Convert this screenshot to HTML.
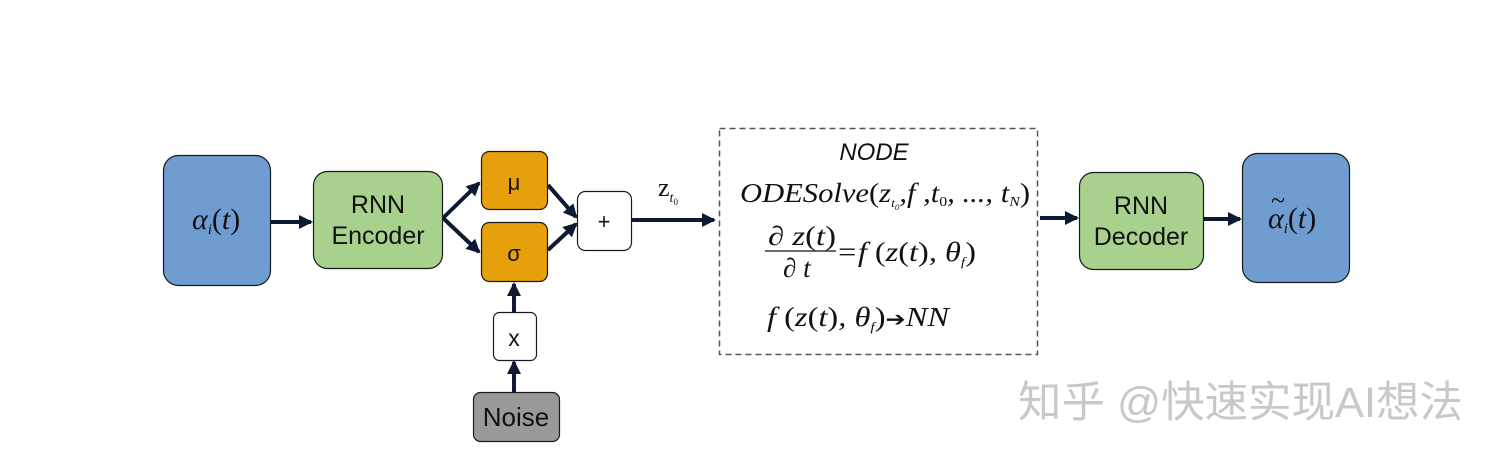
<!DOCTYPE html>
<html><head><meta charset="utf-8"><style>
html,body{margin:0;padding:0;background:#fff;width:1503px;height:462px;overflow:hidden}
svg{display:block}
.s{font-family:"Liberation Sans",sans-serif}
.m{font-family:"Liberation Serif",serif;font-style:italic}
</style></head><body>
<svg width="1503" height="462" viewBox="0 0 1503 462" xmlns="http://www.w3.org/2000/svg">
<defs>
<marker id="a" markerWidth="3.5" markerHeight="3.5" refX="3" refY="1.75" orient="auto" markerUnits="strokeWidth">
<path d="M0,0 L3.5,1.75 L0,3.5 Z" fill="#0d1a33"/></marker>
</defs>
<g stroke="#0d1a33" stroke-width="4" fill="none" marker-end="url(#a)">
<line x1="271" y1="222" x2="311" y2="222"/>
<line x1="443" y1="218" x2="479" y2="183"/>
<line x1="443" y1="218" x2="479" y2="252"/>
<line x1="548" y1="185" x2="576" y2="217"/>
<line x1="548" y1="250" x2="576" y2="224"/>
<line x1="632" y1="220" x2="714" y2="220"/>
<line x1="514" y1="312" x2="514" y2="284"/>
<line x1="514" y1="392" x2="514" y2="362"/>
<line x1="1040" y1="218" x2="1077" y2="218"/>
<line x1="1204" y1="219" x2="1240" y2="219"/>
</g>
<rect x="163.5" y="155.5" width="107" height="130" rx="15" fill="#6f9dd2" stroke="#1a1a1a" stroke-width="1.2"/>
<rect x="313.5" y="171.5" width="129" height="97" rx="14" fill="#a9d18e" stroke="#1a1a1a" stroke-width="1.2"/>
<rect x="481.5" y="151.5" width="66" height="58" rx="8" fill="#e6a00c" stroke="#1a1a1a" stroke-width="1.2"/>
<rect x="481.5" y="222.5" width="66" height="59" rx="8" fill="#e6a00c" stroke="#1a1a1a" stroke-width="1.2"/>
<rect x="577.5" y="191.5" width="54" height="59" rx="8" fill="#fff" stroke="#1a1a1a" stroke-width="1.2"/>
<rect x="493.5" y="312.5" width="43" height="48" rx="6" fill="#fff" stroke="#1a1a1a" stroke-width="1.2"/>
<rect x="473.5" y="392.5" width="86" height="49" rx="7" fill="#999" stroke="#1a1a1a" stroke-width="1.2"/>
<rect x="719.5" y="128.5" width="318" height="226" fill="#fff" stroke="#555" stroke-width="1.5" stroke-dasharray="6,4"/>
<rect x="1079.5" y="172.5" width="124" height="97" rx="14" fill="#a9d18e" stroke="#1a1a1a" stroke-width="1.2"/>
<rect x="1242.5" y="153.5" width="107" height="129" rx="15" fill="#6f9dd2" stroke="#1a1a1a" stroke-width="1.2"/>

<g class="s" fill="#111" font-size="25" text-anchor="middle">
<text x="378" y="213">RNN</text><text x="378" y="244">Encoder</text>
<text x="1141" y="214">RNN</text><text x="1141" y="245">Decoder</text>
<text x="516" y="426" font-size="26">Noise</text>
<text x="514" y="346" font-size="23">x</text>
<text x="604" y="229" font-size="22">+</text>
<text x="514" y="190" font-size="22">μ</text>
<text x="514" y="261" font-size="22">σ</text>
<text x="874" y="160" font-style="italic" font-size="24">NODE</text>
</g>
<g class="m" fill="#111" font-size="30">
<text x="192" y="229">α<tspan font-size="15" dy="5">i</tspan><tspan font-style="normal" dy="-5">(</tspan>t<tspan font-style="normal">)</tspan></text>
<text x="1268" y="228">α<tspan font-size="15" dy="5">i</tspan><tspan font-style="normal" dy="-5">(</tspan>t<tspan font-style="normal">)</tspan></text>
<text x="1271" y="209" font-size="26" font-style="normal">~</text>
<text x="658" y="196" font-size="26" font-style="normal">z<tspan font-size="14" dy="6" font-style="italic">t</tspan><tspan font-size="9" dy="3">0</tspan></text>
<text x="740" y="202" font-size="27" textLength="290" lengthAdjust="spacingAndGlyphs">ODESolve<tspan font-style="normal">(</tspan>z<tspan font-size="12" dy="5">t</tspan><tspan font-size="8" dy="3">0</tspan><tspan dy="-8">,f ,t</tspan><tspan font-size="14" dy="4" font-style="normal">0</tspan><tspan dy="-4">, ..., t</tspan><tspan font-size="14" dy="4">N</tspan><tspan dy="-4" font-style="normal">)</tspan></text>
<text x="768" y="245" font-size="27" textLength="68" lengthAdjust="spacingAndGlyphs">∂ z<tspan font-style="normal">(</tspan>t<tspan font-style="normal">)</tspan></text>
<line x1="765" y1="251" x2="836" y2="251" stroke="#111" stroke-width="1.3"/>
<text x="783" y="277" font-size="27">∂ t</text>
<text x="836" y="261" font-size="27" textLength="140" lengthAdjust="spacingAndGlyphs">=f <tspan font-style="normal">(</tspan>z<tspan font-style="normal">(</tspan>t<tspan font-style="normal">)</tspan>, θ<tspan font-size="13" dy="5">f</tspan><tspan dy="-5" font-style="normal">)</tspan></text>
<text x="767" y="326" font-size="27" textLength="182" lengthAdjust="spacingAndGlyphs">f <tspan font-style="normal">(</tspan>z<tspan font-style="normal">(</tspan>t<tspan font-style="normal">)</tspan>, θ<tspan font-size="13" dy="5">f</tspan><tspan dy="-5" font-style="normal">)</tspan><tspan font-style="normal" font-family="DejaVu Sans" font-size="20">➔</tspan>NN</text>
</g>
<text x="1018" y="417" font-family="'Liberation Sans','Noto Sans CJK SC',sans-serif" font-size="43" fill="#c8c8c8" textLength="445" lengthAdjust="spacingAndGlyphs">知乎 @快速实现AI想法</text>
</svg>
</body></html>
